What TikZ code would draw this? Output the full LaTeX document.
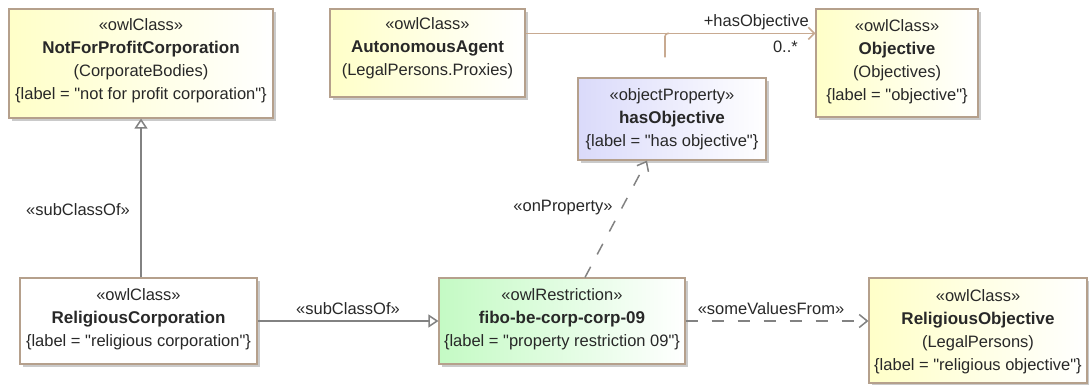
\documentclass[tikz,border=0pt]{standalone}
\usepackage{fontspec}
\setmainfont{Liberation Sans}[Ligatures=TeXOff]
\usetikzlibrary{arrows.meta,shadows,calc}
\definecolor{border}{RGB}{181,160,140}
\definecolor{classfill}{RGB}{255,255,200}
\definecolor{propfill}{RGB}{218,218,250}
\definecolor{restrfill}{RGB}{196,250,196}
\definecolor{linegray}{RGB}{130,130,130}
\definecolor{assoc}{RGB}{200,170,145}
\definecolor{txtcol}{RGB}{40,40,40}
\tikzset{
  boxbase/.style={rectangle, draw=border, line width=1.2pt, inner sep=0pt,
    drop shadow={shadow xshift=3pt, shadow yshift=-3pt, fill=black!35, opacity=0.6}},
  clsbox/.style={boxbase, left color=classfill, right color=white},
  propbox/.style={boxbase, left color=propfill, right color=white},
  restrbox/.style={boxbase, left color=restrfill, right color=white},
  plainbox/.style={boxbase, fill=white},
  txt/.style={align=center, inner sep=0pt, text=txtcol, font=\fontsize{16.5}{23}\selectfont},
  lbl/.style={inner sep=0pt, text=txtcol, font=\fontsize{16.5}{19}\selectfont},
  genline/.style={draw=linegray, line width=1.5pt, -{Triangle[open, length=10pt, width=13pt, fill=white]}},
  depline/.style={draw=linegray, line width=1.5pt, dash pattern=on 12pt off 14pt, -{Straight Barb[length=8pt, width=13pt]}},
  assocline/.style={draw=assoc, line width=1.6pt, -{Straight Barb[length=6pt, width=12pt]}},
}
\newcommand{\nm}[1]{{\fontsize{17}{23}\selectfont\bfseries #1}}
\begin{document}
\begin{tikzpicture}[x=1pt, y=-1pt]
\useasboundingbox (0,0) rectangle (1089,385);
% boxes
\node[clsbox, minimum width=264pt, minimum height=109pt] (npc) at (141,63.5) {};
\node[txt] (npct) at (141,61) {«owlClass»\\\nm{NotForProfitCorporation}\\(CorporateBodies)\\\{label = "not for profit corporation"\}};

\node[clsbox, minimum width=195pt, minimum height=88pt] (aa) at (427.5,53) {};
\node[txt] (aat) at (427.5,48) {«owlClass»\\\nm{AutonomousAgent}\\(LegalPersons.Proxies)};

\node[clsbox, minimum width=162pt, minimum height=108pt] (obj) at (897,63) {};
\node[txt] (objt) at (897,62) {«owlClass»\\\nm{Objective}\\(Objectives)\\\{label = "objective"\}};

\node[propbox, minimum width=188pt, minimum height=82pt] (hasobj) at (672,119) {};
\node[txt] (hasobjt) at (672,119) {«objectProperty»\\\nm{hasObjective}\\\{label = "has objective"\}};

\node[plainbox, minimum width=237pt, minimum height=86pt] (rc) at (138.5,321) {};
\node[txt] (rct) at (138.5,319.5) {«owlClass»\\\nm{ReligiousCorporation}\\\{label = "religious corporation"\}};

\node[restrbox, minimum width=246pt, minimum height=86pt] (fibo) at (562,321) {};
\node[txt] (fibot) at (562,319.5) {«owlRestriction»\\\nm{fibo-be-corp-corp-09}\\\{label = "property restriction 09"\}};

\node[clsbox, minimum width=218pt, minimum height=105pt] (relobj) at (978,330.5) {};
\node[txt] (relobjt) at (978,331.5) {«owlClass»\\\nm{ReligiousObjective}\\(LegalPersons)\\\{label = "religious objective"\}};

% connectors
\draw[genline] (rc.north -| npc.south) -- (npc.south);
\draw[genline] (rc.east) -- (rc.east -| fibo.west);
\draw[depline] ($(fibo.north)+(23,0)$) -- ($(hasobj.south)+(-25,0)$);
\draw[depline] (fibo.east) -- (fibo.east -| relobj.west);
\coordinate (aj) at ($(aa.north east)+(0,25)$);
\draw[assocline] (aj) -- (aj -| obj.west);
\coordinate (acb) at ($(hasobj.north)+(-7,-20)$);
\draw[draw=assoc, line width=1.6pt, rounded corners=3pt] (acb) -- (acb |- aj) -- ($(acb |- aj)+(4,0)$);

% labels
\node[lbl] (l1) at (78,210) {«subClassOf»};
\node[lbl] (l2) at (348,309) {«subClassOf»};
\node[lbl] (l3) at (563,208) {«onProperty»};
\node[lbl] (l4) at (771,309) {«someValuesFrom»};
\node[lbl, anchor=east] (l5) at (809,22) {+hasObjective};
\node[lbl, anchor=east] (l6) at (798,47) {0..*};
\end{tikzpicture}
\end{document}
